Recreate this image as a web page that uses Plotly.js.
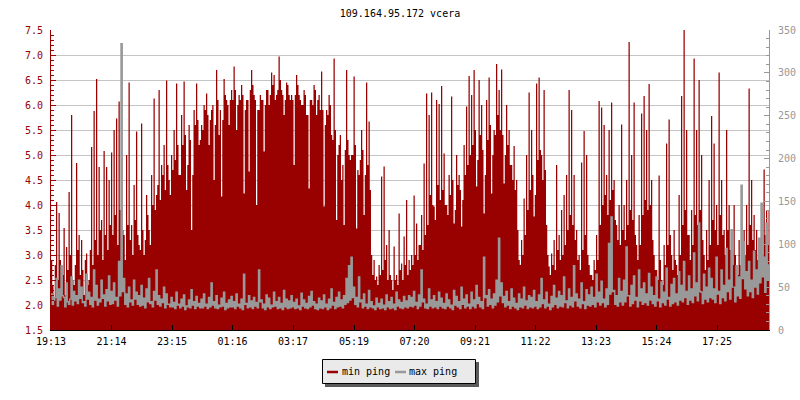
<!DOCTYPE html>
<html><head><meta charset="utf-8">
<script src="https://cdn.plot.ly/plotly-3.0.1.min.js"></script>
<style>html,body{margin:0;padding:0;background:#fff}#chart{width:800px;height:400px}</style>
</head><body><div id="chart"></div>
<script>
// sample step in minutes from 19:13
const stepMinutes = 2.5;
const tickMinutes = [0,121,242,363,484,606,727,848,969,1090,1211,1332];
const tickLabels = ['19:13','21:14','23:15','01:16','03:17','05:19','07:20','09:21','11:22','13:23','15:24','17:25'];

// min ping (left axis), one row per hour
const minPing = [
2.9,2.4,2.1,2.8,4.06,2.5,3.84,2.9,2.3,2.6,3.54,2.2,3.16,2.7,4.26,3.0,5.8,2.5,2.4,2.8,4.84,3.1,3.4,2.6,
3.3,2.7,2.2,2.9,3.03,2.4,2.5,3.1,5.16,2.8,5.88,3.3,6.52,3.0,4.76,3.5,3.7,2.9,5.08,3.4,4.76,3.1,4.5,3.6,
5.05,3.4,5.5,3.8,5.73,3.2,6.07,3.9,5.0,3.5,3.4,2.9,5.0,3.6,6.45,3.3,3.6,3.0,4.4,3.7,5.47,3.4,3.2,3.1,
5.63,3.5,3.0,3.3,4.2,3.8,3.5,3.2,4.6,4.0,6.13,3.9,4.2,4.4,6.3,4.1,4.8,4.6,5.2,4.3,6.49,4.8,4.5,4.2,
5.0,4.7,5.5,4.9,6.43,5.2,4.6,4.6,5.8,5.2,6.47,5.4,4.3,4.8,5.6,5.3,3.5,4.6,5.9,5.6,6.43,5.7,5.2,5.3,
5.6,5.5,6.0,5.9,6.23,5.8,5.2,5.7,5.9,6.0,4.5,5.6,6.7,6.1,5.4,5.9,4.17,5.7,6.52,6.2,6.1,6.0,5.6,6.1,
6.3,6.1,6.77,6.3,5.5,6.0,6.2,6.1,6.4,6.2,4.23,5.9,6.1,6.1,4.67,6.3,6.7,6.4,6.2,6.1,4.0,5.9,5.9,6.2,
6.1,6.1,5.07,6.0,6.3,6.3,6.0,6.2,6.65,6.4,6.6,6.1,6.2,6.3,6.97,6.5,6.3,6.2,5.8,6.1,6.45,6.4,6.2,6.1,
6.2,6.1,4.8,6.2,6.6,6.4,6.2,6.1,6.0,6.0,6.3,6.2,5.8,5.8,4.33,6.1,6.1,6.0,6.4,6.3,5.8,6.1,6.2,5.9,
6.67,5.9,3.97,5.6,5.9,5.8,6.2,6.0,5.4,5.3,6.93,5.5,3.7,5.0,5.2,5.4,4.5,4.8,3.6,5.1,6.7,5.3,5.0,4.9,
5.0,5.0,6.57,5.2,3.53,4.7,4.6,4.9,5.5,5.1,3.8,4.6,6.45,4.8,5.67,4.3,3.0,2.6,2.9,2.5,2.57,2.4,2.8,2.6,
4.57,2.7,4.77,2.9,3.2,2.5,3.5,2.6,2.5,2.3,3.17,2.5,2.6,2.4,3.83,2.7,2.83,2.5,3.37,2.8,4.1,2.6,2.9,2.7,
3.0,2.8,4.19,3.0,3.63,2.9,3.2,3.2,3.8,3.1,4.83,3.4,6.23,3.6,5.8,4.2,6.25,4.0,3.97,3.7,6.1,4.4,6.02,4.1,
6.38,4.3,5.03,4.0,4.0,3.8,4.6,4.2,6.17,4.5,3.63,3.9,5.0,4.4,4.6,4.3,3.57,4.1,5.2,4.6,5.97,4.8,6.58,5.0,
6.2,5.2,6.7,5.5,4.37,4.9,6.5,5.4,6.0,5.1,3.83,4.6,6.1,5.3,6.55,5.6,4.23,5.0,5.5,5.4,6.82,5.8,6.3,5.5,
6.71,5.4,4.43,5.0,6.0,5.2,5.5,4.8,4.8,4.5,5.18,4.3,4.5,3.5,2.9,2.8,3.3,3.0,4.13,3.4,5.0,3.9,6.25,4.3,
5.5,4.6,3.77,4.2,6.43,4.9,6.55,5.1,5.0,4.5,6.3,4.7,3.6,3.0,2.77,2.6,3.03,2.8,3.3,2.7,4.8,3.1,3.4,2.9,
3.9,3.0,4.2,3.2,4.6,3.5,6.3,3.8,5.9,3.6,4.6,3.3,3.5,2.9,3.0,2.7,4.85,3.1,5.48,3.4,5.0,3.0,2.8,2.6,
2.6,2.5,2.9,2.7,3.4,2.9,6.08,3.6,5.95,4.0,5.6,4.2,4.6,3.8,5.5,4.1,6.05,4.3,4.5,3.7,3.6,3.3,4.0,3.2,
5.61,3.5,4.0,3.3,4.5,3.6,7.26,3.9,5.0,3.7,6.05,3.4,3.2,2.9,3.8,3.2,5.83,3.8,6.18,4.1,5.5,3.9,6.42,4.0,
4.5,3.3,3.0,2.7,2.7,2.5,4.59,2.9,2.5,2.4,3.2,2.8,5.23,3.2,5.71,3.4,3.0,2.7,3.5,2.9,2.8,2.6,4.2,3.0,
6.18,3.6,7.5,3.9,5.5,3.4,3.4,2.9,3.9,3.2,6.93,3.8,5.5,3.6,6.5,3.9,5.0,3.3,3.0,2.7,3.5,2.9,4.5,3.2,
5.78,3.7,5.23,3.5,4.0,3.2,6.65,3.8,4.5,3.4,3.5,3.0,5.5,3.5,4.0,3.1,3.2,2.8,4.0,3.0,2.8,2.6,3.3,2.8,
3.0,2.7,3.5,3.0,4.0,3.2,6.33,3.6,4.5,3.3,3.8,3.1,3.5,2.9,3.2,2.8,3.0,2.7,4.71,3.4,3.9,3.2,3.9,3.5
];

// max ping (right axis), one row per hour
const maxPing = [
42,30,35,38,60,28,48,35,75,40,38,27,55,33,30,36,62,29,45,34,40,31,58,37,
50,32,33,28,65,36,44,30,38,27,70,35,52,29,36,33,58,37,41,28,47,34,63,30,
45,31,55,35,38,28,80,40,334,45,60,30,42,27,50,33,35,29,58,36,44,30,40,28,
52,29,37,26,48,33,60,31,33,27,45,35,70,30,40,28,36,32,50,26,42,30,30,27,
38,27,32,25,44,29,30,26,36,28,41,24,28,27,35,26,47,29,33,25,39,28,31,26,
36,26,42,28,30,25,38,27,55,29,33,26,40,25,29,27,37,28,44,24,31,26,35,27,
39,27,33,25,42,28,30,26,36,24,65,30,31,26,40,27,34,25,38,28,32,26,70,33,
35,26,30,24,41,27,37,25,29,27,44,28,33,25,38,26,31,24,46,27,36,25,34,26,
40,27,32,25,36,26,28,24,43,28,35,26,31,25,39,27,45,29,33,25,30,24,37,26,
34,25,41,27,30,24,36,26,48,29,32,25,38,27,44,28,35,26,40,30,60,32,75,35,
85,38,50,30,38,27,62,33,35,26,42,28,30,25,46,27,33,26,28,24,37,27,31,25,
36,26,29,24,41,27,33,25,38,26,30,24,44,28,35,26,32,25,39,27,34,26,40,28,
38,27,45,29,32,25,41,28,70,33,36,26,30,25,48,28,35,26,40,27,33,25,44,28,
37,26,31,25,42,28,35,26,29,24,46,29,39,27,33,25,50,30,36,26,41,28,30,25,
44,28,35,26,52,31,38,27,33,25,85,38,40,28,47,30,36,26,42,29,58,33,107,40,
55,32,39,27,45,29,33,25,48,28,37,26,31,24,42,27,36,26,50,29,34,25,40,27,
38,26,46,28,33,25,41,27,60,31,35,26,44,28,30,24,39,27,52,30,37,26,45,28,
40,27,62,32,34,26,48,29,38,27,75,34,42,28,36,26,55,31,33,25,47,29,41,28,
50,30,38,27,65,33,44,29,57,32,36,27,48,30,101,42,132,45,46,30,40,28,60,33,
45,29,58,33,97,40,40,28,52,31,63,35,38,27,70,34,48,30,55,32,42,29,66,35,
50,31,40,28,62,34,36,27,56,32,44,29,72,36,38,28,53,31,60,33,42,29,68,35,
52,33,80,38,45,30,63,35,48,32,90,40,55,34,125,45,44,31,65,36,50,33,72,38,
60,36,48,32,85,42,45,31,70,38,52,34,95,45,58,36,117,50,50,33,75,40,62,37,
169,60,103,48,68,40,80,45,58,38,92,50,70,42,107,55,148,62,85,44,125,58,76,46
];

const seriesNames = ['min ping','max ping'];
const seriesColors = ['#990000','#999999'];

const t = minPing.map((_, i) => i * stepMinutes);
const mono = 'DejaVu Sans Mono, monospace';

// pixel helpers for the hand-built legend (paper coordinates)
const L = 51, R = 31, T = 30, B = 70, W = 800, H = 400;
const px = v => (v - L) / (W - L - R);
const py = v => (H - B - v) / (H - T - B);

const traces = [
  {x: t, y: minPing, type: 'scatter', mode: 'lines', name: seriesNames[0],
   line: {shape: 'hv', width: 0, color: seriesColors[0]},
   fill: 'tozeroy', fillcolor: seriesColors[0], yaxis: 'y', hoverinfo: 'skip'},
  {x: t, y: maxPing, type: 'scatter', mode: 'lines', name: seriesNames[1],
   line: {shape: 'hv', width: 1.4, color: seriesColors[1]}, yaxis: 'y2', hoverinfo: 'skip'}
];

const layout = {
  width: W, height: H,
  margin: {l: L, r: R, t: T, b: B, pad: 0},
  paper_bgcolor: '#ffffff', plot_bgcolor: '#ffffff',
  showlegend: false,
  font: {family: mono, size: 10, color: '#000'},
  title: {text: '109.164.95.172 vcera', font: {family: mono, size: 10, color: '#000'},
          x: 0.5, xref: 'container', xanchor: 'center', y: 1 - 13 / H, yref: 'container', yanchor: 'middle'},
  xaxis: {range: [0, 1436], tickvals: tickMinutes, ticktext: tickLabels,
          ticks: 'inside', ticklen: 5, tickcolor: '#000', tickwidth: 1,
          showline: true, linecolor: '#000', linewidth: 1, mirror: false,
          showgrid: false, zeroline: false, ticklabelstandoff: 2,
          tickfont: {family: mono, size: 10, color: '#000'}, fixedrange: true},
  yaxis: {range: [1.5, 7.5], tick0: 1.5, dtick: 0.5, tickformat: '.1f',
          ticks: 'inside', ticklen: 5, tickcolor: '#990000', tickwidth: 1,
          showline: true, linecolor: '#990000', linewidth: 1,
          showgrid: true, gridcolor: '#c4c4c4', gridwidth: 1, zeroline: false,
          ticklabelstandoff: 5,
          minor: {dtick: 0.1, ticks: 'inside', ticklen: 3, tickcolor: '#990000', showgrid: false},
          tickfont: {family: mono, size: 10, color: '#990000'}, fixedrange: true},
  yaxis2: {range: [0, 350], tick0: 0, dtick: 50, overlaying: 'y', side: 'right',
           ticks: 'inside', ticklen: 5, tickcolor: '#999999', tickwidth: 1,
           showline: true, linecolor: '#999999', linewidth: 1,
           showgrid: false, zeroline: false, ticklabelstandoff: 6,
           minor: {dtick: 10, ticks: 'inside', ticklen: 3, tickcolor: '#999999', showgrid: false},
           tickfont: {family: mono, size: 10, color: '#999999'}, fixedrange: true},
  shapes: [
    {type: 'rect', xref: 'paper', yref: 'paper', x0: px(325), x1: px(479), y0: py(362), y1: py(387),
     fillcolor: '#5a5a5a', line: {width: 0}, layer: 'above'},
    {type: 'rect', xref: 'paper', yref: 'paper', x0: px(322.5), x1: px(475.5), y0: py(359.5), y1: py(383.5),
     fillcolor: '#eaeaea', line: {width: 1, color: '#000'}, layer: 'above'},
    {type: 'line', xref: 'paper', yref: 'paper', x0: px(327), x1: px(338), y0: py(372), y1: py(372),
     line: {width: 2.5, color: seriesColors[0]}, layer: 'above'},
    {type: 'line', xref: 'paper', yref: 'paper', x0: px(395), x1: px(406), y0: py(372), y1: py(372),
     line: {width: 2.5, color: seriesColors[1]}, layer: 'above'}
  ],
  annotations: [
    {text: seriesNames[0], xref: 'paper', yref: 'paper', x: px(340), y: py(371.5), xanchor: 'left', yanchor: 'middle',
     showarrow: false, font: {family: mono, size: 10, color: '#000'}},
    {text: seriesNames[1], xref: 'paper', yref: 'paper', x: px(407), y: py(371.5), xanchor: 'left', yanchor: 'middle',
     showarrow: false, font: {family: mono, size: 10, color: '#000'}}
  ]
};

Plotly.newPlot('chart', traces, layout, {displayModeBar: false, staticPlot: true});
</script>
</body></html>
